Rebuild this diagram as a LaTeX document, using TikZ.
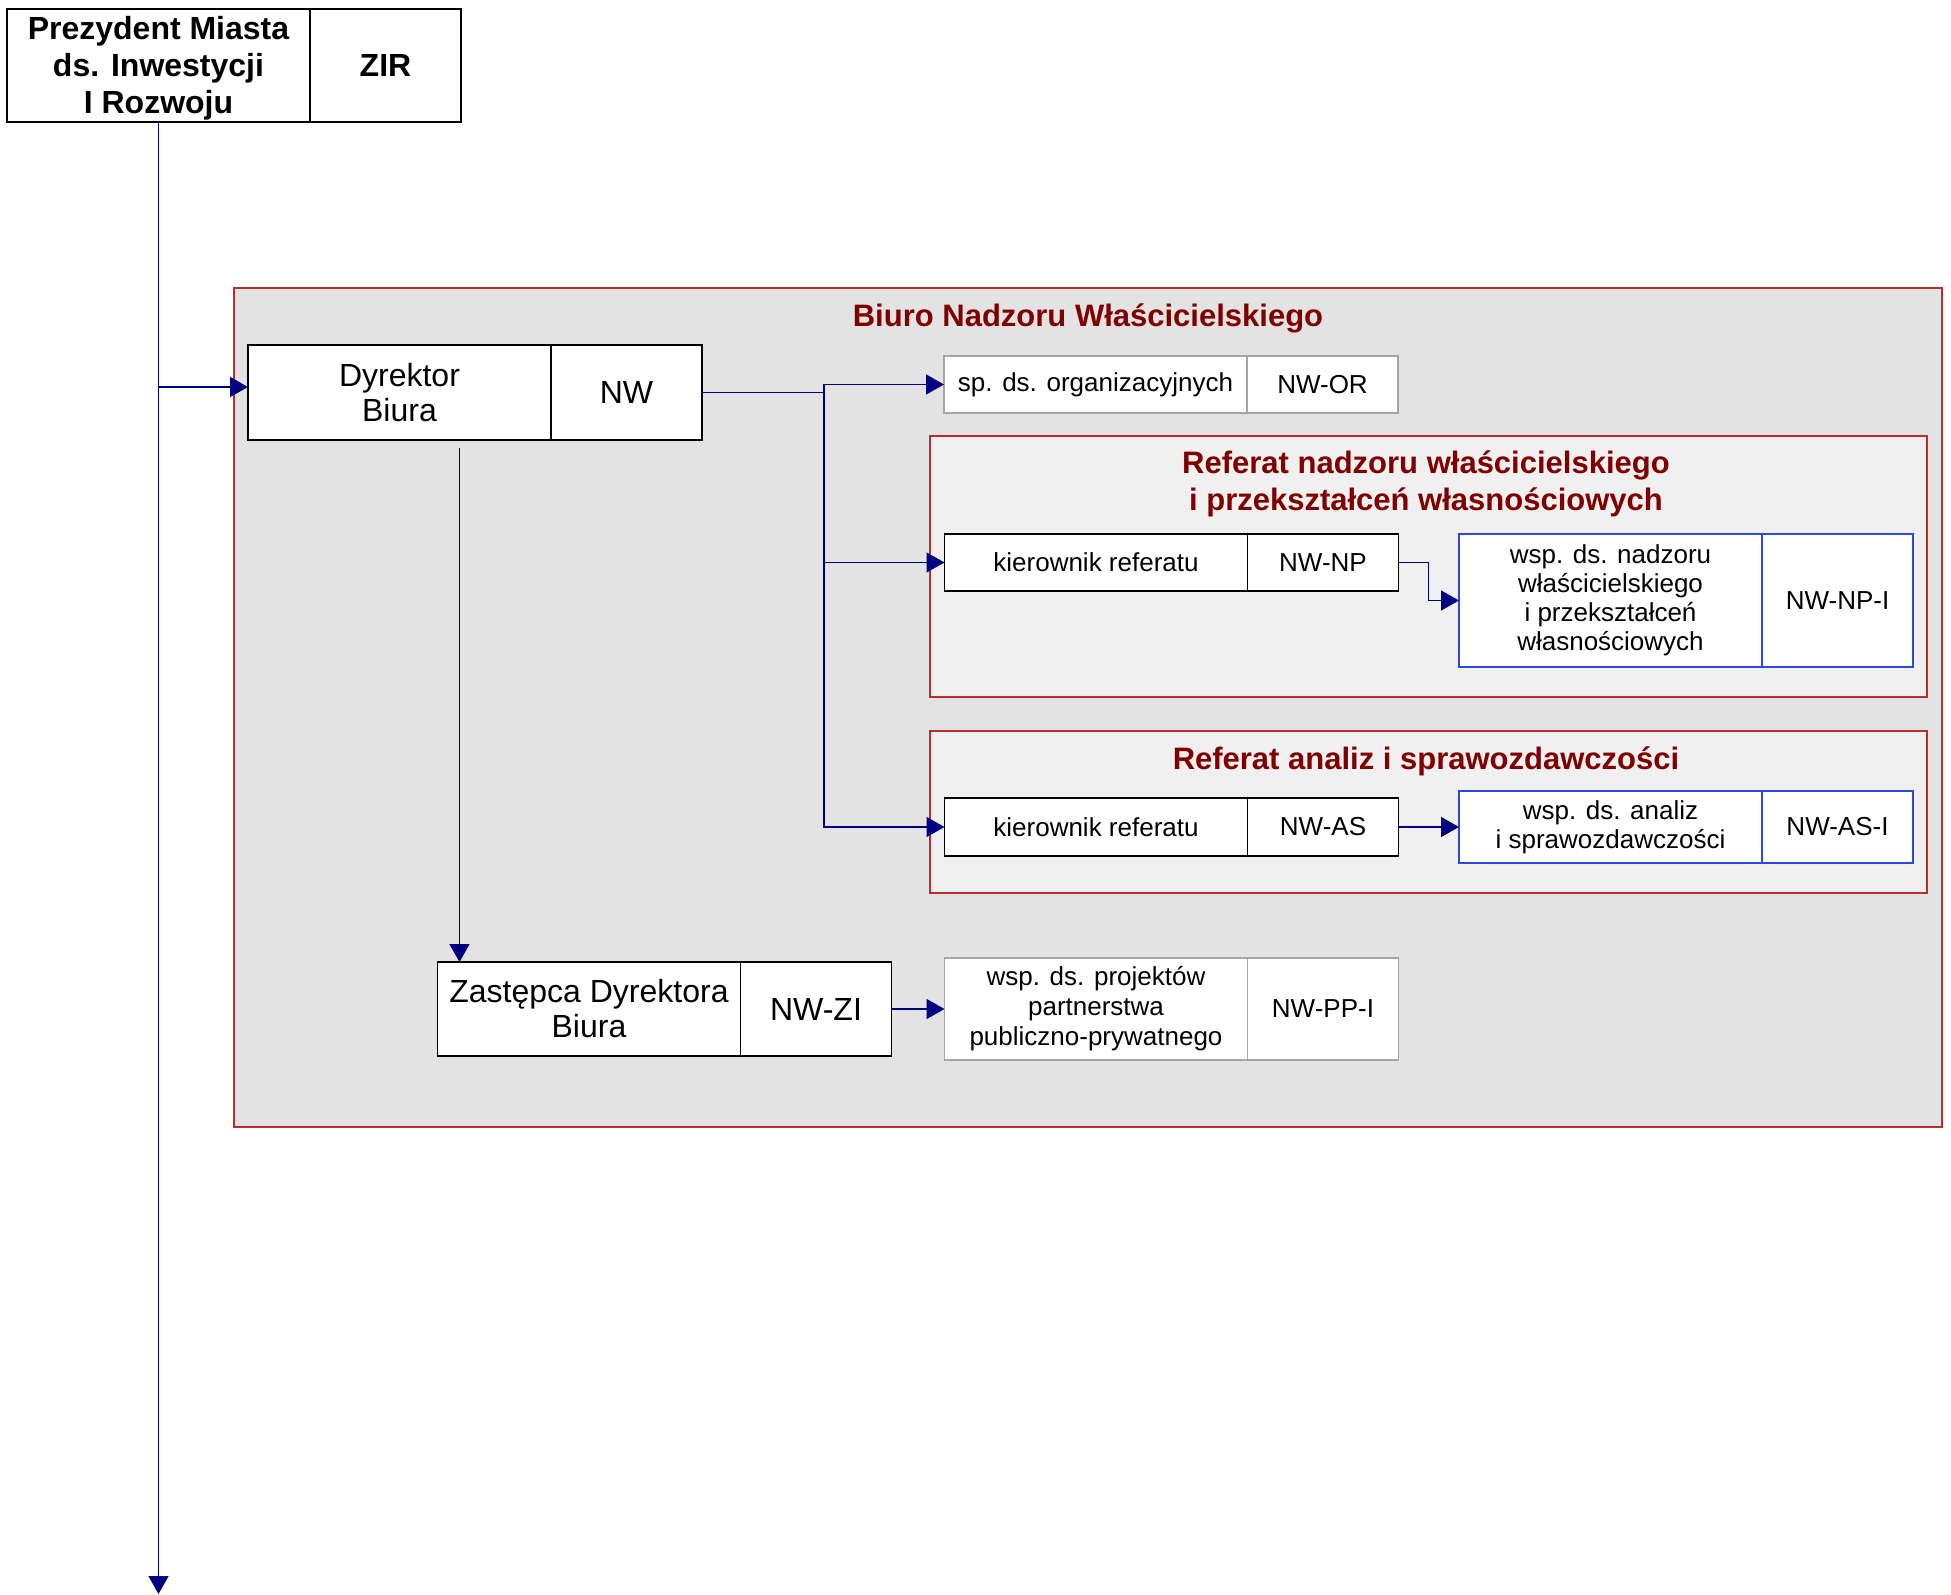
\documentclass[tikz,border=0pt]{standalone}
\usepackage{fontspec}
\setmainfont{Liberation Sans}
\usetikzlibrary{arrows.meta,positioning}

\definecolor{navyline}{RGB}{0,0,128}
\definecolor{maroontext}{RGB}{128,0,0}
\definecolor{redframe}{RGB}{185,45,45}
\definecolor{biurofill}{RGB}{227,227,227}
\definecolor{referatfill}{RGB}{240,240,240}
\definecolor{greyedge}{RGB}{165,165,165}
\definecolor{blueedge}{RGB}{45,70,230}

\tikzset{
  cell/.style={draw=black, fill=white, inner sep=0pt, outer sep=0pt, align=center, minimum height=#1},
  poscell/.style={cell=#1, minimum width=151.5pt},
  codecell/.style={cell=#1, minimum width=75.5pt},
  bigtext/.style={font=\fontsize{16}{17.5}\selectfont},
  bigbold/.style={font=\fontsize{16}{18.5}\selectfont\bfseries},
  smalltext/.style={font=\fontsize{13}{14.5}\selectfont},
  titletext/.style={font=\fontsize{15.5}{18.5}\selectfont\bfseries, text=maroontext, align=center, inner sep=0pt},
  link/.style={draw=navyline, line width=0.75pt}
}

\begin{document}
\begin{tikzpicture}[x=0.5pt,y=-0.5pt,>={Triangle[length=9pt,width=10pt]},line width=0.75pt]
\useasboundingbox (0,0) rectangle (1951,1595);

% biuro and referaty
\draw[draw=redframe, fill=biurofill] (234,288) rectangle (1942,1127);
\draw[draw=redframe, fill=referatfill] (930,436) rectangle (1927,697);
\draw[draw=redframe, fill=referatfill] (930,731) rectangle (1927,893);

\node[titletext] (biurotitle) at (1088,318) {Biuro Nadzoru Właścicielskiego};
\node[titletext] (nptitle) at (1426,484) {Referat nadzoru właścicielskiego\\i przekształceń własnościowych};
\node[titletext] (astitle) at (1426,761) {Referat analiz i sprawozdawczości};

% stanowiska
\node[poscell=56.5pt, bigbold] (zir) at (158.5,65.5) {\rule{0pt}{14pt}Prezydent Miasta\\ds. Inwestycji\\I Rozwoju};
\node[codecell=56.5pt, bigbold, right=0pt of zir] (zircode) {ZIR};

\node[poscell=47.5pt, bigtext] (dyr) at (399.5,392.5) {Dyrektor\\Biura};
\node[codecell=47.5pt, bigtext, right=0pt of dyr] (dyrcode) {NW};

\node[poscell=28.5pt, smalltext, draw=greyedge] (sp) at (1095.5,384.5) {sp. ds. organizacyjnych};
\node[codecell=28.5pt, smalltext, draw=greyedge, right=0pt of sp] (spcode) {NW-OR};

\node[poscell=28.5pt, smalltext] (kiernp) at (1096,562.5) {kierownik referatu};
\node[codecell=28.5pt, smalltext, right=0pt of kiernp] (npcode) {NW-NP};

\node[poscell=66.5pt, smalltext, draw=blueedge] (npi) at (1610.5,600.5) {wsp. ds. nadzoru\\właścicielskiego\\i przekształceń\\własnościowych};
\node[codecell=66.5pt, smalltext, draw=blueedge, right=0pt of npi] (npicode) {NW-NP-I};

\node[poscell=29pt, smalltext] (kieras) at (1096,827) {kierownik referatu};
\node[codecell=29pt, smalltext, right=0pt of kieras] (ascode) {NW-AS};

\node[poscell=36pt, smalltext, draw=blueedge] (asi) at (1610.5,827) {wsp. ds. analiz\\i sprawozdawczości};
\node[codecell=36pt, smalltext, draw=blueedge, right=0pt of asi] (asicode) {NW-AS-I};

\node[poscell=47pt, bigtext] (zast) at (589,1009) {Zastępca Dyrektora\\Biura};
\node[codecell=47pt, bigtext, right=0pt of zast] (zastcode) {NW-ZI};

\node[poscell=51pt, font=\fontsize{13}{15}\selectfont, draw=greyedge] (ppi) at (1096,1009) {wsp. ds. projektów\\partnerstwa\\publiczno-prywatnego};
\node[codecell=51pt, smalltext, draw=greyedge, right=0pt of ppi] (ppicode) {NW-PP-I};

% polaczenia
\coordinate (zirend) at (158.5,1594);
\coordinate (bus) at (824,392.5);

\draw[link,->] (zir.south) -- (zirend);
\draw[link,->] ([yshift=2.75pt]zir.south |- dyr.west) -- ([yshift=2.75pt]dyr.west);
\draw[link] (dyrcode.east) -- (bus);
\draw[link,->] (bus) |- (sp.west);
\draw[link,->] (bus) |- (kiernp.west);
\draw[link,->] (bus) |- (kieras.west);
\draw[link,->] (npcode.east) -- ++(30,0) |- (npi.west);
\draw[link,->] (ascode.east) -- (asi.west);
\draw[link,->] ([xshift=11pt,yshift=-4pt]zast.north west |- dyr.south) -- ([xshift=11pt]zast.north west);
\draw[link,->] (zastcode.east) -- (ppi.west);
\end{tikzpicture}
\end{document}
